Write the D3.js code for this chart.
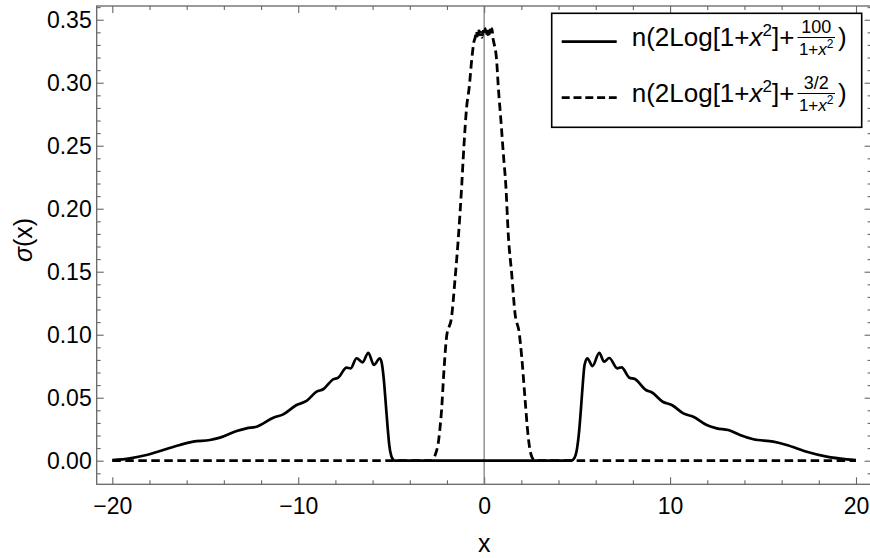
<!DOCTYPE html>
<html>
<head>
<meta charset="utf-8">
<script src="https://cdn.jsdelivr.net/npm/d3@7"></script>
<style>
  body { margin: 0; background: #fff; }
  svg { font-family: "Liberation Sans", Arial, sans-serif; }
  .eje path { stroke: #666; stroke-width: 1.3; }
  .eje line { stroke: #666; stroke-width: 1.1; }
  .eje text { fill: #000; font-size: 23px; }
</style>
</head>
<body>
<div id="graf"></div>
<script>
// I. Datos
xMajor = [-20, -10, 0, 10, 20]
yMajor = [0, 0.05, 0.10, 0.15, 0.20, 0.25, 0.30, 0.35]

// curva solida: n(2Log[1+x^2] + 100/(1+x^2))
solidX = [-20, -19.05, -18.16, -17.26, -16.36, -15.65, -14.75, -14.21, -13.31, -12.78,
          -12.24, -11.34, -10.81, -10.09, -9.55, -9.01, -8.66, -8.12, -7.85, -7.40,
          -7.18, -6.86, -6.54, -6.23, -5.93, -5.61, -5.50, -5.40, -5.30, -5.20,
          -5.10, -5.00, -4.90, -4.80,
          0,
          4.70, 4.85, 5.00, 5.10, 5.20, 5.30, 5.40, 5.55, 5.83, 6.19,
          6.45, 6.73, 7.16, 7.39, 7.81, 8.11, 8.70, 9.01, 9.60, 10.09,
          10.71, 11.25, 11.97, 12.51, 13.13, 13.76, 14.48, 15.55, 16.27, 17.35,
          18.42, 19.50, 20]
solidY = [0.0005, 0.0019, 0.0045, 0.0085, 0.0125, 0.0151, 0.0164, 0.0183, 0.0236, 0.0257,
          0.0270, 0.0341, 0.0368, 0.0442, 0.0474, 0.0548, 0.0567, 0.0646, 0.0659, 0.0738,
          0.0733, 0.0813, 0.0781, 0.0857, 0.0760, 0.0813, 0.0770, 0.0650, 0.0470, 0.0280,
          0.0120, 0.0040, 0.0010, 0,
          0,
          0, 0.0020, 0.0100, 0.0220, 0.0400, 0.0600, 0.0760, 0.0813, 0.0751, 0.0857,
          0.0786, 0.0815, 0.0733, 0.0741, 0.0659, 0.0648, 0.0561, 0.0543, 0.0468, 0.0442,
          0.0376, 0.0349, 0.0283, 0.0257, 0.0244, 0.0204, 0.0170, 0.0151, 0.0125, 0.0071,
          0.0032, 0.0011, 0.0005]

// curva punteada: n(2Log[1+x^2] + (3/2)/(1+x^2))
dashX = [-20, -10, -2.80, -2.74, -2.60, -2.47, -2.38, -2.29, -2.16, -2.02,
         -1.75, -1.57, -1.39, -1.21, -1.09, -0.94, -0.80, -0.67, -0.55,
         -0.48, -0.42, -0.36, -0.30, -0.24, -0.18, -0.12, -0.06, 0, 0.06,
         0.12, 0.18, 0.24, 0.30, 0.36, 0.42, 0.48,
         0.53, 0.67, 0.76, 0.90, 1.03, 1.17, 1.30, 1.48, 1.66, 1.89,
         2.02, 2.19, 2.37, 2.50, 2.64, 2.72, 10, 20]
dashY = [0, 0, 0, 0.0010, 0.0060, 0.0138, 0.0250, 0.0402, 0.0720, 0.0984,
         0.1143, 0.1434, 0.1765, 0.2175, 0.2492, 0.2810, 0.2968, 0.3180, 0.3325,
         0.3360, 0.3410, 0.3370, 0.3430, 0.3380, 0.3400, 0.3360, 0.3410, 0.3380, 0.3430,
         0.3370, 0.3410, 0.3360, 0.3420, 0.3380, 0.3430, 0.3350,
         0.3313, 0.3180, 0.2968, 0.2704, 0.2440, 0.2175, 0.1790, 0.1487, 0.1170, 0.1010,
         0.0825, 0.0508, 0.0190, 0.0060, 0.0010, 0, 0, 0]

// II. Configuración
ancho_total = 870
alto_total = 558
margins = { top: 6, left: 96.7 }
ancho = 774.9
alto = 478.3

svg = d3.select('#graf').append('svg')
        .attr('width', ancho_total)
        .attr('height', alto_total)

g = svg.append('g')
       .attr('transform', `translate(${ margins.left }, ${ margins.top })`)

x = d3.scaleLinear().domain([-20.839, 20.839]).range([0, ancho])
y = d3.scaleLinear().domain([-0.01873, 0.3609]).range([alto, 0])

// III. Ejes y marco
xMinor = d3.range(-20, 20.1, 2).filter(v => v % 10 != 0)
yMinor = d3.range(-0.01, 0.361, 0.01).filter(v => Math.abs(v / 0.05 - Math.round(v / 0.05)) > 1e-6)

g.append('g').attr('class', 'eje')
  .attr('transform', `translate(0, ${ alto })`)
  .call(d3.axisBottom(x).tickValues(xMajor).tickSize(-7).tickPadding(13.7)
        .tickFormat(d => d < 0 ? '\u2212' + Math.abs(d) : d))
g.append('g').attr('class', 'eje')
  .attr('transform', `translate(0, ${ alto })`)
  .call(d3.axisBottom(x).tickValues(xMinor).tickSize(-4).tickFormat(''))
  .select('.domain').remove()
g.append('g').attr('class', 'eje')
  .call(d3.axisTop(x).tickValues(xMajor).tickSize(-7).tickFormat(''))
g.append('g').attr('class', 'eje')
  .call(d3.axisTop(x).tickValues(xMinor).tickSize(-4).tickFormat(''))
  .select('.domain').remove()

g.append('g').attr('class', 'eje')
  .call(d3.axisLeft(y).tickValues(yMajor).tickSize(-7).tickPadding(5)
        .tickFormat(d3.format('.2f')))
g.append('g').attr('class', 'eje')
  .call(d3.axisLeft(y).tickValues(yMinor).tickSize(-4).tickFormat(''))
  .select('.domain').remove()
g.append('g').attr('class', 'eje')
  .attr('transform', `translate(${ ancho }, 0)`)
  .call(d3.axisRight(y).tickValues(yMajor).tickSize(-7).tickFormat(''))
g.append('g').attr('class', 'eje')
  .attr('transform', `translate(${ ancho }, 0)`)
  .call(d3.axisRight(y).tickValues(yMinor).tickSize(-4).tickFormat(''))
  .select('.domain').remove()

g.selectAll('.eje .domain').attr('d', null)
g.append('rect')
  .attr('width', ancho).attr('height', alto)
  .attr('fill', 'none').attr('stroke', '#666').attr('stroke-width', 1.3)

// eje vertical en x = 0
g.append('line')
  .attr('x1', x(0)).attr('x2', x(0))
  .attr('y1', 0).attr('y2', alto)
  .attr('stroke', '#777').attr('stroke-width', 1.2)

// IV. Curvas
g.append('clipPath').attr('id', 'clip')
  .append('rect').attr('width', ancho).attr('height', alto)

linea = d3.line()
          .x(d => x(d[0]))
          .y(d => y(d[1]))
          .curve(d3.curveMonotoneX)

g.append('path')
  .datum(d3.zip(solidX, solidY))
  .attr('clip-path', 'url(#clip)')
  .attr('d', linea)
  .attr('fill', 'none').attr('stroke', '#000').attr('stroke-width', 2.7)

g.append('path')
  .datum(d3.zip(dashX, dashY))
  .attr('clip-path', 'url(#clip)')
  .attr('d', linea)
  .attr('fill', 'none').attr('stroke', '#000').attr('stroke-width', 2.8)
  .attr('stroke-dasharray', '8.5,4.5')

// V. Leyenda
leyenda = svg.append('g')
leyenda.append('rect')
  .attr('x', 551.7).attr('y', 13.3).attr('width', 310).attr('height', 114)
  .attr('fill', '#fff').attr('stroke', '#000').attr('stroke-width', 1.6)

entradas = [
  { num: '100', dash: null, fila: 0 },
  { num: '3/2', dash: '8,3.8', fila: 1 }
]

entradas.forEach(e => {
  dy = e.fila * 56
  leyenda.append('line')
    .attr('x1', 561.7).attr('x2', 616.7)
    .attr('y1', 41.7 + dy).attr('y2', 41.7 + dy)
    .attr('stroke', '#000').attr('stroke-width', 2.7)
    .attr('stroke-dasharray', e.dash)

  t = leyenda.append('text')
    .attr('x', 631.7).attr('y', 46 + dy)
    .style('font-size', '26px')
  t.append('tspan').text('n(2Log[1+')
  t.append('tspan').style('font-style', 'italic').text('x')
  t.append('tspan').attr('dy', -10).style('font-size', '17px').text('2')
  t.append('tspan').attr('dy', 10).text(']+')
  x0 = 631.7 + t.node().getComputedTextLength() + 3

  num = leyenda.append('text')
    .attr('y', 33 + dy).attr('text-anchor', 'middle')
    .style('font-size', '18px').text(e.num)
  den = leyenda.append('text')
    .attr('y', 55 + dy).attr('text-anchor', 'middle')
    .style('font-size', '17px')
  den.append('tspan').text('1+')
  den.append('tspan').style('font-style', 'italic').text('x')
  den.append('tspan').attr('dy', -7).style('font-size', '12px').text('2')

  w = Math.max(num.node().getComputedTextLength(), den.node().getComputedTextLength()) + 3
  num.attr('x', x0 + w / 2)
  den.attr('x', x0 + w / 2)
  leyenda.append('line')
    .attr('x1', x0).attr('x2', x0 + w)
    .attr('y1', 37.5 + dy).attr('y2', 37.5 + dy)
    .attr('stroke', '#000').attr('stroke-width', 1.2)

  leyenda.append('text')
    .attr('x', x0 + w + 3).attr('y', 46 + dy)
    .style('font-size', '26px').text(')')
})

// VI. Títulos de ejes
svg.append('text')
  .attr('x', margins.left + x(0)).attr('y', 552)
  .attr('text-anchor', 'middle')
  .style('font-size', '25px')
  .text('x')

yl = svg.append('text')
  .attr('transform', 'translate(32, 240) rotate(-90)')
  .attr('text-anchor', 'middle')
  .style('font-size', '25px')
yl.append('tspan').style('font-style', 'italic').text('σ')
yl.append('tspan').text('(x)')
</script>
</body>
</html>
